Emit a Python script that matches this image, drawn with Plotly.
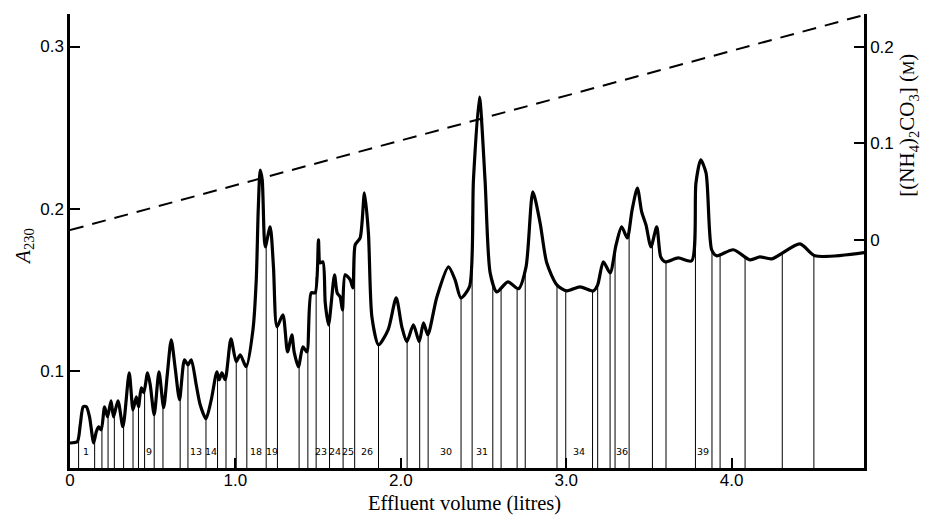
import numpy as np
import plotly.graph_objects as go

# Absorbance trace (effluent volume in litres, A230)
vol = [0.000, 0.044, 0.062, 0.080, 0.099, 0.118, 0.143, 0.159, 0.173, 0.189,
       0.209, 0.227, 0.248, 0.263, 0.290, 0.320, 0.358, 0.381, 0.401, 0.414,
       0.431, 0.446, 0.469, 0.485, 0.509, 0.538, 0.566, 0.588, 0.612, 0.636,
       0.662, 0.692, 0.713, 0.733, 0.763, 0.787, 0.822, 0.854, 0.888, 0.902,
       0.918, 0.938, 0.973, 1.005, 1.029, 1.065, 1.106, 1.126, 1.138, 1.150,
       1.162, 1.180, 1.210, 1.230, 1.251, 1.287, 1.315, 1.341, 1.355, 1.381,
       1.408, 1.432, 1.458, 1.482, 1.502, 1.512, 1.529, 1.543, 1.563, 1.599,
       1.615, 1.633, 1.647, 1.663, 1.694, 1.710, 1.724, 1.754, 1.780, 1.804,
       1.825, 1.865, 1.923, 1.972, 2.006, 2.036, 2.076, 2.111, 2.137, 2.163,
       2.218, 2.288, 2.328, 2.363, 2.415, 2.439, 2.475, 2.509, 2.540, 2.580,
       2.647, 2.711, 2.757, 2.798, 2.842, 2.882, 2.943, 3.003, 3.083, 3.164,
       3.190, 3.224, 3.265, 3.301, 3.335, 3.369, 3.398, 3.430, 3.456, 3.482,
       3.512, 3.547, 3.571, 3.597, 3.677, 3.758, 3.784, 3.813, 3.845, 3.879,
       3.909, 4.010, 4.111, 4.171, 4.242, 4.413, 4.503, 4.805]
a230 = [0.0560, 0.0568, 0.0672, 0.0783, 0.0783, 0.0721, 0.0561, 0.0629, 0.0660, 0.0641,
        0.0783, 0.0721, 0.0820, 0.0721, 0.0820, 0.0660, 0.0992, 0.0764, 0.0844, 0.0783,
        0.0900, 0.0869, 0.0992, 0.0918, 0.0734, 0.0998, 0.0777, 0.0980, 0.1195, 0.1020,
        0.0826, 0.1072, 0.1041, 0.1072, 0.0918, 0.0795, 0.0709, 0.0826, 0.0998, 0.0949,
        0.0992, 0.0949, 0.1201, 0.1060, 0.1103, 0.1029, 0.1256, 0.1564, 0.1995, 0.2240,
        0.2180, 0.1767, 0.1890, 0.1644, 0.1275, 0.1349, 0.1121, 0.1225, 0.1121, 0.1029,
        0.1152, 0.1121, 0.1484, 0.1484, 0.1810, 0.1668, 0.1675, 0.1423, 0.1287, 0.1595,
        0.1484, 0.1459, 0.1379, 0.1595, 0.1564, 0.1515, 0.1779, 0.1822, 0.2099, 0.1853,
        0.1336, 0.1164, 0.1256, 0.1453, 0.1275, 0.1183, 0.1287, 0.1183, 0.1299, 0.1226,
        0.1459, 0.1644, 0.1564, 0.1453, 0.1521, 0.2179, 0.2689, 0.2179, 0.1607, 0.1490,
        0.1552, 0.1509, 0.1644, 0.2105, 0.1914, 0.1669, 0.1533, 0.1496, 0.1521, 0.1496,
        0.1533, 0.1675, 0.1607, 0.1779, 0.1890, 0.1822, 0.1994, 0.2129, 0.1982, 0.1902,
        0.1767, 0.1890, 0.1705, 0.1675, 0.1699, 0.1681, 0.2160, 0.2302, 0.2222, 0.1749,
        0.1712, 0.1749, 0.1687, 0.1705, 0.1693, 0.1785, 0.1712, 0.1732]

# Fraction boundaries (litres)
cuts = [0.052, 0.149, 0.193, 0.230, 0.268, 0.324, 0.381, 0.414, 0.451, 0.509,
        0.562, 0.666, 0.713, 0.822, 0.892, 0.943, 1.005, 1.069, 1.186, 1.254,
        1.385, 1.438, 1.488, 1.569, 1.651, 1.721, 1.865, 2.038, 2.114, 2.165,
        2.364, 2.431, 2.556, 2.606, 2.703, 2.752, 2.944, 2.997, 3.159, 3.190,
        3.265, 3.295, 3.380, 3.521, 3.603, 3.781, 3.881, 3.930, 4.081, 4.306,
        4.497]

# Fraction labels
frac_names = ["1", "9", "13", "14", "18", "19", "23", "24", "25", "26",
              "30", "31", "34", "36", "39"]
frac_pos = [0.097, 0.475, 0.763, 0.852, 1.126, 1.221, 1.518, 1.600, 1.683, 1.796,
            2.274, 2.489, 3.079, 3.335, 3.828]

# Ammonium carbonate gradient (M)
grad_vol = [0.0, 4.8]
grad_conc = [0.0103, 0.233]

x_ticks = [0, 1, 2, 3, 4]
x_ticktext = ["0", "1.0", "2.0", "3.0", "4.0"]
y_ticks = [0.1, 0.2, 0.3]
y2_ticks = [0.0, 0.1, 0.2]

XR = [0, 4.8]
YR = [0.0406, 0.320]
Y2R = [-0.236, 0.234]

fig = go.Figure()

# divider lines
cut_top = np.interp(cuts, vol, a230)
dx, dy = [], []
for c, t in zip(cuts, cut_top):
    dx += [c, c, None]
    dy += [YR[0], t, None]
fig.add_trace(go.Scatter(x=dx, y=dy, mode="lines",
                         line=dict(color="black", width=1), hoverinfo="skip",
                         showlegend=False))

fig.add_trace(go.Scatter(x=vol, y=a230, mode="lines",
                         line=dict(color="black", width=3.2, shape="spline", smoothing=0.7),
                         showlegend=False))

fig.add_trace(go.Scatter(x=grad_vol, y=grad_conc, mode="lines", yaxis="y2",
                         line=dict(color="black", width=2, dash="14px,9px"),
                         showlegend=False))

for name, p in zip(frac_names, frac_pos):
    fig.add_annotation(x=p, y=0.0506, text=name, showarrow=False,
                       font=dict(family="DejaVu Sans", size=9.5, color="black"))

fig.add_annotation(xref="paper", yref="paper", x=-0.058, y=0.489,
                   xanchor="center", yanchor="middle",
                   text="<i>A</i><sub>230</sub>",
                   textangle=-90, showarrow=False,
                   font=dict(family="Liberation Serif", size=21, color="black"))
fig.add_annotation(xref="paper", yref="paper", x=1.056, y=0.755,
                   xanchor="center", yanchor="middle",
                   text="[(NH<sub>4</sub>)<sub>2</sub>CO<sub>3</sub>] (<span style='font-size:16px'>M</span>)",
                   textangle=-90, showarrow=False,
                   font=dict(family="Liberation Serif", size=21, color="black"))
fig.add_annotation(xref="paper", yref="paper", x=0.497, y=-0.079,
                   xanchor="center", yanchor="middle",
                   text="Effluent volume (litres)", showarrow=False,
                   font=dict(family="Liberation Serif", size=20.5, color="black"))

tickfont = dict(family="Liberation Sans", size=17, color="black")
fig.update_layout(
    width=921, height=507,
    margin=dict(l=62, r=65, t=6, b=47),
    plot_bgcolor="white", paper_bgcolor="white",
    xaxis=dict(range=XR, tickvals=x_ticks, ticktext=x_ticktext, ticks="inside",
               ticklen=10, tickwidth=2, tickcolor="black", showline=True,
               linecolor="black", linewidth=2.5, showgrid=False, zeroline=False,
               tickfont=tickfont, ticklabelstandoff=-5),
    yaxis=dict(range=YR, tickvals=y_ticks, ticktext=["0.1", "0.2", "0.3"],
               ticks="inside", ticklen=10, tickwidth=2, tickcolor="black",
               showline=True, linecolor="black", linewidth=2.5, showgrid=False,
               zeroline=False, tickfont=tickfont),
    yaxis2=dict(range=Y2R, tickvals=y2_ticks, ticktext=["0", "0.1", "0.2"],
                overlaying="y", side="right", ticks="inside", ticklen=10,
                tickwidth=2, tickcolor="black", showline=True, linecolor="black",
                linewidth=2.5, showgrid=False, zeroline=False, tickfont=tickfont),
)

fig.write_html("out.html")
